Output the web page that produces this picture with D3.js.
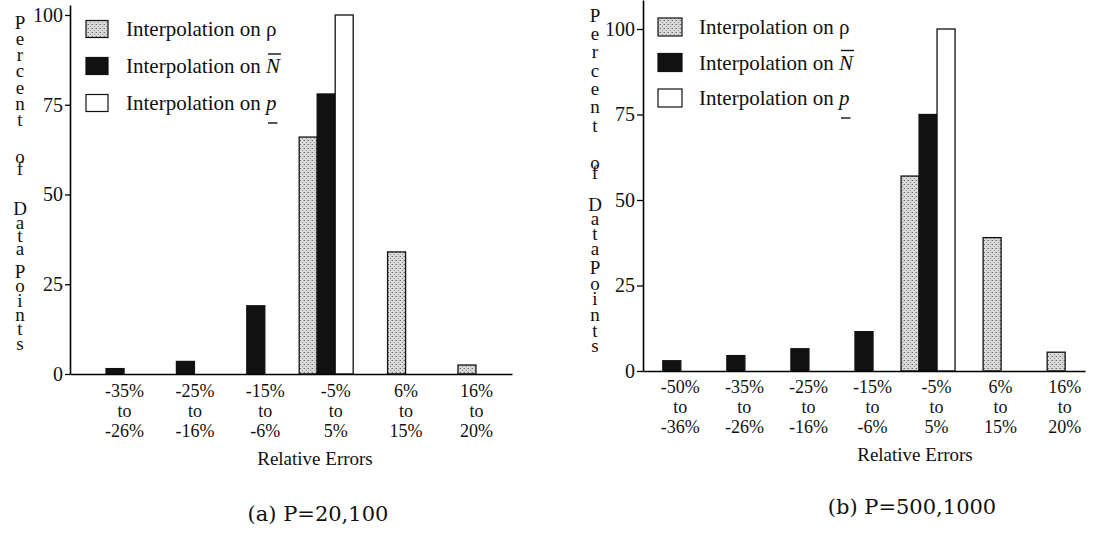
<!DOCTYPE html>
<html>
<head>
<meta charset="utf-8">
<script src="https://cdn.jsdelivr.net/npm/d3@7"></script>
<style>
  body { margin: 0; background: #fff; }
  text { font-family: "Liberation Serif", "Times New Roman", serif; fill: #111; }
  .vert { writing-mode: vertical-lr; text-orientation: upright; }
</style>
</head>
<body>
<svg id="chart" width="1093" height="537"></svg>
<script>
// Series keys (legend order)
const seriesKeys = ["rho", "nbar", "p"];

// Panel (a) P=20,100
const leftRanges = ["-35% to -26%", "-25% to -16%", "-15% to -6%", "-5% to 5%", "6% to 15%", "16% to 20%"];
const leftRho  = [0, 0, 0, 66, 34, 2.5];
const leftNbar = [1.5, 3.5, 19, 78, 0, 0];
const leftP    = [0, 0, 0, 100, 0, 0];

// Panel (b) P=500,1000
const rightRanges = ["-50% to -36%", "-35% to -26%", "-25% to -16%", "-15% to -6%", "-5% to 5%", "6% to 15%", "16% to 20%"];
const rightRho  = [0, 0, 0, 0, 57, 39, 5.5];
const rightNbar = [3, 4.5, 6.5, 11.5, 75, 0, 0];
const rightP    = [0, 0, 0, 0, 100, 0, 0];

const yTicks = [0, 25, 50, 75, 100];
const yLabelWords = ["Percent", "of", "Data", "Points"];
const xLabel = "Relative Errors";

const svg = d3.select("#chart");

// stippled gray fill for the rho series
const defs = svg.append("defs");
const pat = defs.append("pattern")
    .attr("id", "stipple")
    .attr("width", 4).attr("height", 4)
    .attr("patternUnits", "userSpaceOnUse");
pat.append("rect").attr("width", 4).attr("height", 4).attr("fill", "#dadada");
pat.append("rect").attr("x", 0).attr("y", 0).attr("width", 1).attr("height", 1).attr("fill", "#6a6a6a");
pat.append("rect").attr("x", 2).attr("y", 2).attr("width", 1).attr("height", 1).attr("fill", "#8a8a8a");
pat.append("rect").attr("x", 3).attr("y", 0).attr("width", 1).attr("height", 1).attr("fill", "#a8a8a8");

const fills = { rho: "url(#stipple)", nbar: "#111", p: "#fff" };

function drawPanel(p) {
    const g = svg.append("g");

    const x = d3.scalePoint()
        .domain(p.ranges)
        .range([p.left, p.right])
        .padding(p.pad);

    const y = d3.scaleLinear().domain([0, 100]).range([p.bottom, p.top100]);
    y.domain([0, y.invert(p.axisTop)]).range([p.bottom, p.axisTop]);

    // bars: the bars present in a group are centred on the group
    const rows = p.ranges.map((r, i) => ({
        range: r,
        vals: seriesKeys.map((k, j) => ({ key: k, value: p.values[j][i] })).filter(v => v.value > 0)
    }));

    rows.forEach(row => {
        const half = row.vals.length * p.barW / 2;
        const sub = d3.scaleBand().domain(row.vals.map(v => v.key)).range([-half, half]);
        g.selectAll(null)
            .data(row.vals)
            .enter()
            .append("rect")
            .attr("x", d => x(row.range) + sub(d.key))
            .attr("y", d => y(d.value))
            .attr("width", sub.bandwidth())
            .attr("height", d => y(0) - y(d.value))
            .attr("fill", d => fills[d.key])
            .attr("stroke", "#111")
            .attr("stroke-width", 1.3);
    });

    // x axis
    const xAxis = g.append("g")
        .attr("transform", `translate(0,${p.bottom})`)
        .call(d3.axisBottom(x).tickSize(0).tickSizeOuter(0));
    xAxis.select(".domain").attr("stroke-width", 1.6);
    xAxis.selectAll(".tick text")
        .attr("font-family", null)
        .style("font-size", "18px")
        .each(function(d) {
            const t = d3.select(this).attr("dy", null).text(null);
            d.split(" ").forEach((s, i) => {
                t.append("tspan")
                    .attr("x", p.labelDx)
                    .attr("y", p.labelY0 + i * p.lineH)
                    .text(s);
            });
        });

    // y axis
    const yAxis = g.append("g")
        .attr("transform", `translate(${p.left},0)`)
        .call(d3.axisLeft(y).tickValues(yTicks).tickSize(p.tickSize).tickSizeOuter(0).tickPadding(2));
    yAxis.select(".domain").attr("stroke-width", 1.6);
    yAxis.selectAll(".tick line").attr("stroke-width", 1.3);
    yAxis.selectAll(".tick text")
        .attr("font-family", null)
        .style("font-size", "20px");

    // stacked vertical y label: one upright vertical text per word
    yLabelWords.forEach((w, wi) => {
        const span = p.wordSpans[wi];
        const t = g.append("text")
            .attr("class", "vert")
            .attr("x", p.yLabX)
            .attr("y", 0)
            .style("font-size", "19px")
            .text(w);
        const node = t.node();
        if (w.length > 1) {
            const e0 = node.getExtentOfChar(0), e1 = node.getExtentOfChar(1);
            const adv = e1.y - e0.y;
            const want = (span[1] - span[0]) / (w.length - 1);
            t.style("letter-spacing", (want - adv) + "px");
        }
        const e0 = node.getExtentOfChar(0);
        t.attr("y", span[0] - (e0.y + e0.height / 2));
    });

    // x title
    g.append("text")
        .attr("x", p.titleX)
        .attr("y", p.titleY)
        .attr("text-anchor", "middle")
        .style("font-size", "19px")
        .text(xLabel);

    // caption
    g.append("text")
        .attr("x", p.capX)
        .attr("y", p.capY)
        .attr("text-anchor", "middle")
        .style("font-family", "'DejaVu Serif', serif")
        .style("font-size", "21px")
        .text(p.caption);

    // legend
    const leg = g.append("g");
    seriesKeys.forEach((k, i) => {
        const cy = p.legY + i * p.legStep;
        leg.append("rect")
            .attr("x", p.legX)
            .attr("y", cy - p.swH / 2)
            .attr("width", p.swW)
            .attr("height", p.swH)
            .attr("fill", fills[k])
            .attr("stroke", "#111")
            .attr("stroke-width", 1.2);
        const t = leg.append("text")
            .attr("x", p.legTextX)
            .attr("y", cy + 7)
            .style("font-size", "21px");
        t.append("tspan").text("Interpolation on ");
        if (k === "rho") {
            t.append("tspan").text("ρ");
        } else {
            t.append("tspan").style("font-style", "italic").text(k === "nbar" ? "N" : "p");
            const node = t.node();
            const ext = node.getExtentOfChar(node.getNumberOfChars() - 1);
            const ly2 = k === "nbar" ? cy + 7 - 19 : cy + 7 + 13;
            leg.append("line")
                .attr("x1", ext.x + 2).attr("x2", ext.x + ext.width + 1)
                .attr("y1", ly2).attr("y2", ly2)
                .attr("stroke", "#111").attr("stroke-width", 1.4);
        }
    });
}

drawPanel({
    ranges: leftRanges, values: [leftRho, leftNbar, leftP],
    left: 70, right: 512, pad: 0.64, bottom: 374, top100: 15, axisTop: 5,
    barW: 18, tickSize: 5, labelDx: 9, labelY0: 23, lineH: 20.2,
    yLabX: 20, wordSpans: [[20, 117], [152, 164], [205, 245], [268, 340]],
    titleX: 315, titleY: 465, capX: 318, capY: 521, caption: "(a) P=20,100",
    legX: 86, legY: 29, legStep: 37, swW: 22, swH: 17, legTextX: 126
});

drawPanel({
    ranges: rightRanges, values: [rightRho, rightNbar, rightP],
    left: 643, right: 1085, pad: 0.45, bottom: 371, top100: 29, axisTop: 0,
    barW: 18, tickSize: 6, labelDx: 8, labelY0: 22, lineH: 20.2,
    yLabX: 595, wordSpans: [[14, 124], [157, 167], [201, 245], [265, 343]],
    titleX: 915, titleY: 461, capX: 912, capY: 514, caption: "(b) P=500,1000",
    legX: 658, legY: 27, legStep: 35.5, swW: 24, swH: 18, legTextX: 699
});
</script>
</body>
</html>
